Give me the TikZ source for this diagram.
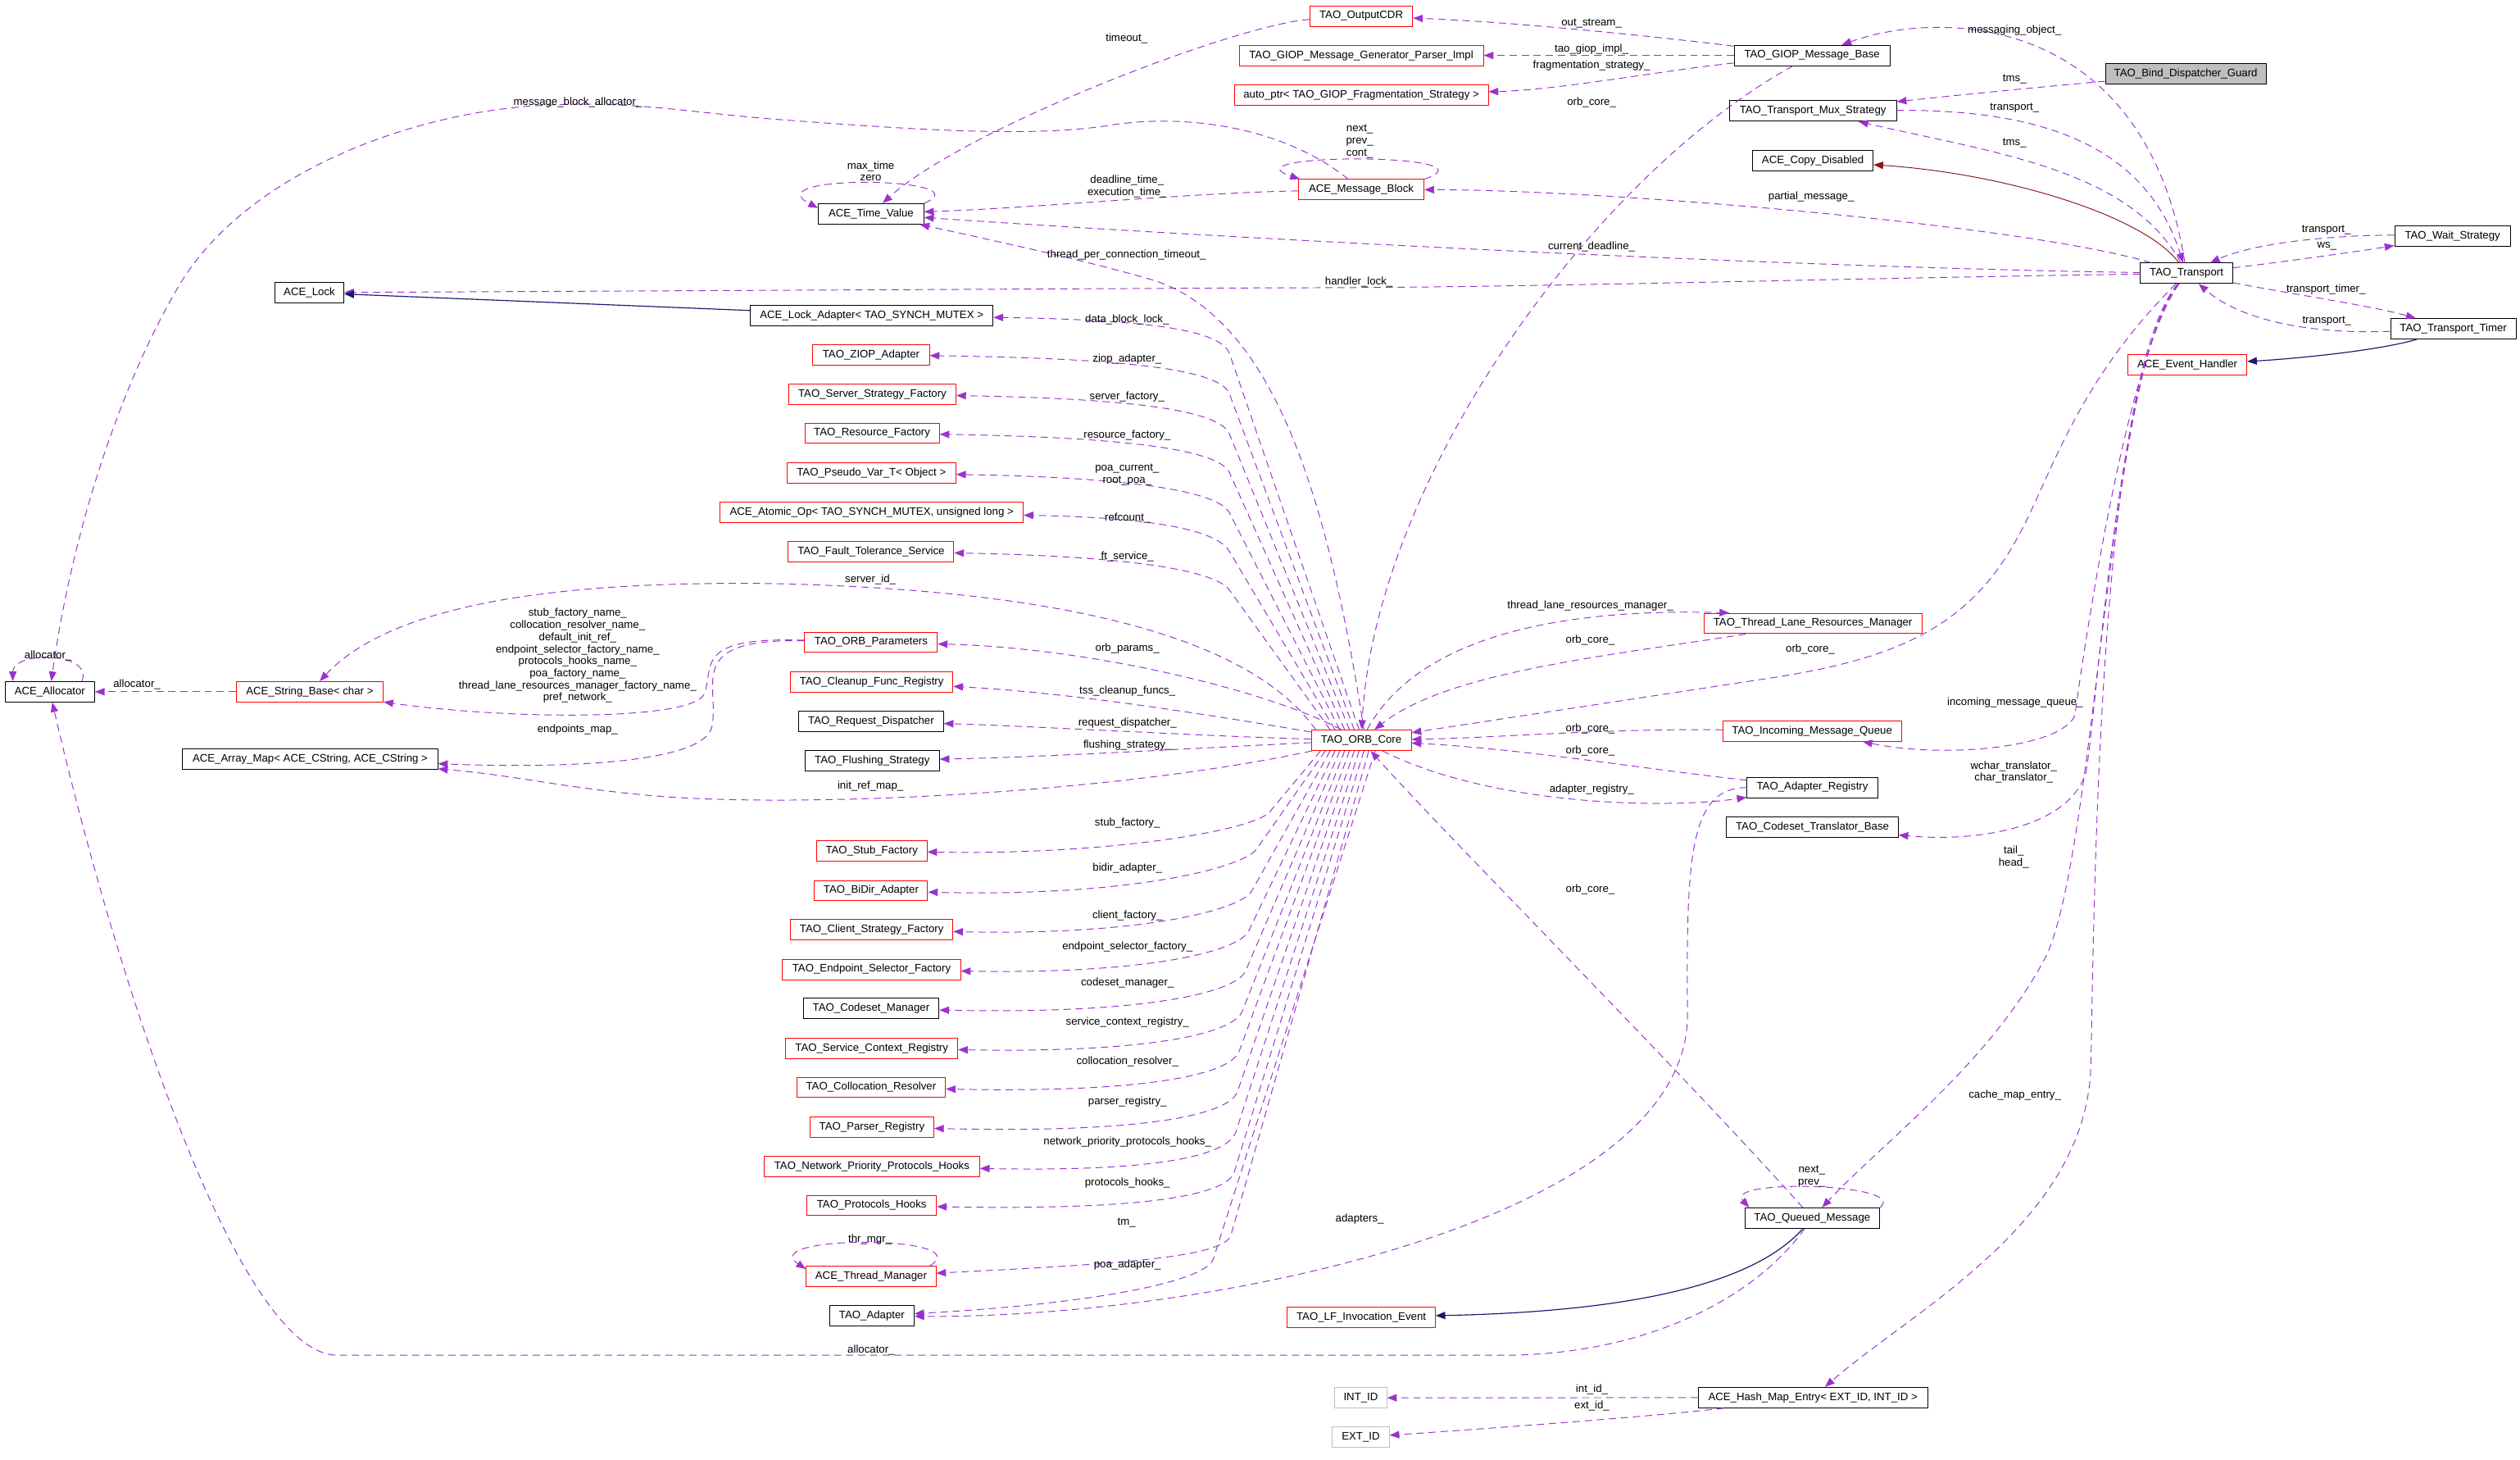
\documentclass[tikz,border=0pt]{standalone}
\usepackage{fontspec}
\setmainfont{Liberation Sans}
\usetikzlibrary{arrows.meta}
\definecolor{dorchid}{RGB}{154,50,205}
\definecolor{mblue}{RGB}{25,25,112}
\definecolor{fbrick}{RGB}{139,26,26}
\definecolor{gbox}{RGB}{191,191,191}
\newcommand{\dgfont}{\fontsize{6.75pt}{7.5pt}\selectfont}
\begin{document}
\begin{tikzpicture}[x=1pt,y=-1pt,
 cls/.style={draw=black,line width=0.5pt,minimum height=12.7pt,inner xsep=2pt,inner ysep=0pt,font=\dgfont},
 rcls/.style={cls,draw=red},
 gcls/.style={cls,draw=gbox},
 rel/.style={draw=dorchid,line width=0.5pt,dash pattern=on 4.5pt off 3pt,-{Triangle[length=6pt,width=4.6pt]}},
 inh/.style={draw=mblue,line width=0.6pt,-{Triangle[length=6pt,width=4.6pt]}},
 prv/.style={draw=fbrick,line width=0.5pt,-{Triangle[length=6pt,width=4.6pt]}},
 lbl/.style={font=\dgfont,inner sep=0pt,align=center}]
\useasboundingbox (0,0) rectangle (1568,908);

% ---------------- nodes ----------------
\node[rcls,minimum width=64pt] (OCDR) at (847,10) {TAO\_OutputCDR};
\node[rcls,minimum width=152pt] (GPI) at (847,34.5) {TAO\_GIOP\_Message\_Generator\_Parser\_Impl};
\node[rcls,minimum width=158pt] (AP) at (847,59) {auto\_ptr< TAO\_GIOP\_Fragmentation\_Strategy >};
\node[cls,minimum width=97pt] (GMB) at (1127.5,34.5) {TAO\_GIOP\_Message\_Base};
\node[cls,fill=gbox,minimum width=100pt] (BDG) at (1360,46) {TAO\_Bind\_Dispatcher\_Guard};
\node[cls,minimum width=104pt] (TMS) at (1128,69) {TAO\_Transport\_Mux\_Strategy};
\node[cls,minimum width=75pt] (ACD) at (1128,100) {ACE\_Copy\_Disabled};
\node[rcls,minimum width=78pt] (AMB) at (847,118) {ACE\_Message\_Block};
\node[cls,minimum width=65.6pt] (ATV) at (542,133) {ACE\_Time\_Value};
\node[cls,minimum width=57.4pt] (TR) at (1360.5,170) {TAO\_Transport};
\node[cls,minimum width=72pt] (TWS) at (1526,146.7) {TAO\_Wait\_Strategy};
\node[cls,minimum width=78pt] (TTT) at (1526.5,204.5) {TAO\_Transport\_Timer};
\node[rcls,minimum width=74pt] (AEH) at (1361,227) {ACE\_Event\_Handler};
\node[cls,minimum width=43pt] (AL) at (192.5,182) {ACE\_Lock};
\node[cls,minimum width=151pt] (ALA) at (542.4,196.2) {ACE\_Lock\_Adapter< TAO\_SYNCH\_MUTEX >};
\node[rcls,minimum width=72.5pt] (ZIOP) at (542,220.7) {TAO\_ZIOP\_Adapter};
\node[rcls,minimum width=104pt] (SSF) at (542.8,245.2) {TAO\_Server\_Strategy\_Factory};
\node[rcls,minimum width=83.7pt] (RF) at (542.6,269.5) {TAO\_Resource\_Factory};
\node[rcls,minimum width=105pt] (PVT) at (542.2,294.2) {TAO\_Pseudo\_Var\_T< Object >};
\node[rcls,minimum width=188.5pt] (AAO) at (542.4,318.7) {ACE\_Atomic\_Op< TAO\_SYNCH\_MUTEX, unsigned long >};
\node[rcls,minimum width=103pt] (FTS) at (542,343) {TAO\_Fault\_Tolerance\_Service};
\node[rcls,minimum width=82.6pt] (OP) at (542,399.5) {TAO\_ORB\_Parameters};
\node[rcls,minimum width=101pt] (CFR) at (542.4,424.3) {TAO\_Cleanup\_Func\_Registry};
\node[cls,minimum width=90pt] (RD) at (542,448.6) {TAO\_Request\_Dispatcher};
\node[cls,minimum width=83.5pt] (FS) at (542.7,473) {TAO\_Flushing\_Strategy};
\node[rcls,minimum width=68.7pt] (SF) at (542.4,529.3) {TAO\_Stub\_Factory};
\node[rcls,minimum width=70.4pt] (BDA) at (542,554) {TAO\_BiDir\_Adapter};
\node[rcls,minimum width=101pt] (CSF) at (542.4,578.3) {TAO\_Client\_Strategy\_Factory};
\node[rcls,minimum width=110.7pt] (ESF) at (542.3,603) {TAO\_Endpoint\_Selector\_Factory};
\node[cls,minimum width=84.5pt] (CM) at (542,627.3) {TAO\_Codeset\_Manager};
\node[rcls,minimum width=107pt] (SCR) at (542.4,652) {TAO\_Service\_Context\_Registry};
\node[rcls,minimum width=92.5pt] (CR) at (542,676.4) {TAO\_Collocation\_Resolver};
\node[rcls,minimum width=77pt] (PR) at (542.5,701) {TAO\_Parser\_Registry};
\node[rcls,minimum width=134pt] (NPPH) at (542.5,725.5) {TAO\_Network\_Priority\_Protocols\_Hooks};
\node[rcls,minimum width=80.7pt] (PH) at (542.4,749.8) {TAO\_Protocols\_Hooks};
\node[rcls,minimum width=80.7pt] (ATM) at (542,794) {ACE\_Thread\_Manager};
\node[cls,minimum width=52.5pt] (TA) at (542.5,818.6) {TAO\_Adapter};
\node[cls,minimum width=55.6pt] (AA) at (31,430.3) {ACE\_Allocator};
\node[rcls,minimum width=91.4pt] (ASB) at (192.7,430.3) {ACE\_String\_Base< char >};
\node[cls,minimum width=158.7pt] (AAM) at (193,472) {ACE\_Array\_Map< ACE\_CString, ACE\_CString >};
\node[rcls,minimum width=62.2pt] (OC) at (847,460.5) {TAO\_ORB\_Core};
\node[rcls,minimum width=135.6pt] (TLRM) at (1128,387.8) {TAO\_Thread\_Lane\_Resources\_Manager};
\node[rcls,minimum width=111pt] (IMQ) at (1127.5,454.7) {TAO\_Incoming\_Message\_Queue};
\node[cls,minimum width=81.3pt] (AR) at (1127.7,489.8) {TAO\_Adapter\_Registry};
\node[cls,minimum width=106.7pt] (CTB) at (1127.7,514.3) {TAO\_Codeset\_Translator\_Base};
\node[cls,minimum width=84pt] (QM) at (1127.6,757.7) {TAO\_Queued\_Message};
\node[rcls,minimum width=92pt] (LFI) at (847,819.3) {TAO\_LF\_Invocation\_Event};
\node[gcls,minimum width=32.3pt] (INT) at (846.7,869.5) {INT\_ID};
\node[gcls,minimum width=35.4pt] (EXT) at (846.7,894) {EXT\_ID};
\node[cls,minimum width=142.7pt] (HME) at (1128,869.3) {ACE\_Hash\_Map\_Entry< EXT\_ID, INT\_ID >};

% ---------------- top region edges ----------------
\draw[rel] (GMB) .. controls (1040,24) and (950,14) .. (OCDR);
\draw[rel] (GMB) -- (GPI);
\draw[rel] (GMB) .. controls (1040,43) and (970,56) .. (AP);
\draw[rel] (GMB) .. controls (990,110) and (855,300) .. (OC);
\draw[rel] (OCDR) .. controls (770,15) and (600,80) .. (ATV);
\draw[rel] (AMB.north east) .. controls (935,95) and (760,95) .. ([xshift=1pt]AMB.north west);
\draw[rel] (AMB) .. controls (740,120) and (650,129) .. (ATV);
\draw[rel] (AMB) .. controls (800,80) and (740,70) .. (690,78) .. controls (640,86) and (560,80) .. (480,74) .. controls (420,69) and (390,62) .. (330,66) .. controls (250,72) and (150,110) .. (110,180) .. controls (75,240) and (45,330) .. (AA);
\draw[rel] (ATV.north east) .. controls (614,110) and (468,108) .. ([yshift=-3pt]ATV.north west);

% ---------------- transport edges ----------------
\draw[rel] (TWS) .. controls (1460,146) and (1405,150) .. (TR);
\draw[rel] (TR) .. controls (1420,163) and (1470,156) .. (TWS);
\draw[rel] (TR) .. controls (1420,182) and (1475,190) .. (TTT);
\draw[rel] (TTT) .. controls (1440,208) and (1395,200) .. (TR);
\draw[inh] (TTT) .. controls (1480,218) and (1430,223) .. (AEH);
\draw[prv] (TR) .. controls (1335,135) and (1250,108) .. (ACD);
\draw[rel] (TR) .. controls (1325,105) and (1240,95) .. (TMS);
\draw[rel] (TMS) .. controls (1270,68) and (1335,90) .. (TR);
\draw[rel] (BDG) .. controls (1260,55) and (1210,60) .. (TMS);
\draw[rel] (TR) .. controls (1335,10) and (1210,5) .. (GMB);
\draw[rel] (TR) .. controls (1260,140) and (1000,118) .. (AMB);
\draw[rel] (TR) .. controls (1100,166) and (760,148) .. (ATV);
\draw[rel] (TR) .. controls (1100,174) and (950,179) .. (800,179) -- (AL);
\draw[rel] (TR) .. controls (1290,240) and (1275,300) .. (1255,335) .. controls (1225,390) and (1180,410) .. (1100,422) -- (OC);
\draw[rel] (TR) .. controls (1325,220) and (1300,380) .. (1291,445) .. controls (1283,465) and (1210,472) .. (IMQ);
\draw[rel] (TR) .. controls (1318,225) and (1305,440) .. (1298,480) .. controls (1288,515) and (1230,524) .. (CTB);
\draw[rel] (TR) .. controls (1312,230) and (1305,520) .. (1274,593) .. controls (1240,660) and (1170,712) .. (QM);
\draw[rel] (TR) .. controls (1306,235) and (1303,560) .. (1301,662) .. controls (1299,760) and (1190,815) .. (HME);

% ---------------- ORB core to upper column ----------------
\draw[rel] ([xshift=33pt]OC.north west) .. controls (825,300) and (790,200) .. (720,175) .. controls (680,163) and (620,150) .. (ATV);
\draw[rel] ([xshift=30pt]OC.north west) -- (765,220) .. controls (760,206) and (720,199) .. (ALA);
\draw[rel] ([xshift=27pt]OC.north west) -- (765,245) .. controls (759.7,231) and (710,223) .. (ZIOP);
\draw[rel] ([xshift=24pt]OC.north west) -- (765,270) .. controls (759.3,256) and (710,248) .. (SSF);
\draw[rel] ([xshift=21pt]OC.north west) -- (765,294) .. controls (758.8,280.3) and (705,272) .. (RF);
\draw[rel] ([xshift=18pt]OC.north west) -- (765,319) .. controls (758,305.6) and (705,297) .. (PVT);
\draw[rel] ([xshift=15pt]OC.north west) -- (765,343) .. controls (757.3,330) and (720,322) .. (AAO);
\draw[rel] ([xshift=12pt]OC.north west) -- (765,367) .. controls (756,355) and (705,346) .. (FTS);
\draw[rel] ([xshift=3pt]OC.north west) .. controls (770,385) and (620,366) .. (480,363) .. controls (330,361) and (240,380) .. (ASB);
\draw[rel] (OC) .. controls (790,430) and (680,403) .. (OP);
\draw[rel] (OC) .. controls (760,446) and (670,431) .. (CFR);
\draw[rel] (OC) .. controls (750,458) and (650,452) .. (RD);
\draw[rel] (OC) .. controls (750,465) and (650,471) .. (FS);
\draw[rel] (OC) .. controls (700,492) and (520,502) .. (420,496) .. controls (360,492) and (320,482) .. (AAM);

% ---------------- ORB core to lower column ----------------
\draw[rel] ([xshift=6pt]OC.south west) -- (790,505) .. controls (780.4,516.5) and (690,532) .. (SF);
\draw[rel] ([xshift=9pt]OC.south west) -- (782,528) .. controls (773.4,540.3) and (700,558) .. (BDA);
\draw[rel] ([xshift=12pt]OC.south west) -- (779,554) .. controls (771.7,567) and (705,582) .. (CSF);
\draw[rel] ([xshift=15pt]OC.south west) -- (777,579) .. controls (770.5,592.5) and (710,606) .. (ESF);
\draw[rel] ([xshift=18pt]OC.south west) -- (775,604) .. controls (769,617.8) and (710,631) .. (CM);
\draw[rel] ([xshift=21pt]OC.south west) -- (773,629) .. controls (767.5,643) and (715,655) .. (SCR);
\draw[rel] ([xshift=24pt]OC.south west) -- (771,654) .. controls (765.8,668) and (715,680) .. (CR);
\draw[rel] ([xshift=27pt]OC.south west) -- (770,679) .. controls (765,693) and (715,705) .. (PR);
\draw[rel] ([xshift=30pt]OC.south west) -- (769,704) .. controls (764.4,718) and (725,729) .. (NPPH);
\draw[rel] ([xshift=33pt]OC.south west) -- (768,729) .. controls (763.6,743) and (715,753) .. (PH);
\draw[rel] ([xshift=36pt]OC.south west) -- (766,768) .. controls (762,782) and (700,786) .. (ATM);
\draw[rel] ([xshift=40pt]OC.south west) -- (755,783) .. controls (750.4,797.3) and (680,811) .. (TA);
\draw[rel] ([xshift=-4pt]ATM.north east) .. controls (610,768) and (470,768) .. ([yshift=-2pt]ATM.north west);

% ---------------- left cluster ----------------
\draw[inh] (ALA) -- (AL);
\draw[rel] (OP) .. controls (430,396) and (445,415) .. (438,432) .. controls (430,448) and (320,448) .. (ASB);
\draw[rel] (OP) .. controls (425,397) and (448,425) .. (443,452) .. controls (438,475) and (350,478) .. (AAM);
\draw[rel] (ASB) -- (AA);
\draw[rel] ([xshift=-8pt]AA.north east) .. controls (58,405) and (8,405) .. ([xshift=5pt]AA.north west);
\draw[rel] (QM) .. controls (1090,810) and (1020,843) .. (935,843) -- (210,843) .. controls (150,843) and (75,620) .. (AA);

% ---------------- right cluster ----------------
\draw[rel] (OC) .. controls (880,400) and (960,378) .. ([xshift=16pt]TLRM.north west);
\draw[rel] (TLRM) .. controls (1000,408) and (900,418) .. (OC);
\draw[rel] (IMQ) .. controls (1000,453) and (930,459) .. (OC);
\draw[rel] (AR) .. controls (1020,478) and (950,466) .. (OC);
\draw[rel] (OC) .. controls (930,502) and (1040,503) .. (AR);
\draw[rel] (AR) .. controls (1052,490) and (1049,530) .. (1050,630) .. controls (1052,760) and (750,820) .. (TA);
\draw[rel] (QM) .. controls (1040,660) and (900,520) .. (OC);
\draw[rel] (QM.north east) .. controls (1188,736) and (1072,733) .. ([xshift=3pt]QM.north west);
\draw[inh] (QM) .. controls (1090,800) and (1010,816) .. (LFI);
\draw[rel] (HME) -- (INT);
\draw[rel] (HME) .. controls (1030,881) and (920,889) .. (EXT);

% ---------------- labels ----------------
\node[lbl] (l1) at (701,23.8) {timeout\_};
\node[lbl] (l2) at (990.3,14.4) {out\_stream\_};
\node[lbl] (l3) at (990.3,30.6) {tao\_giop\_impl\_};
\node[lbl] (l4) at (990.3,40.8) {fragmentation\_strategy\_};
\node[lbl] (l5) at (990.3,63.7) {orb\_core\_};
\node[lbl] (l6) at (1253.5,19) {messaging\_object\_};
\node[lbl] (l7) at (1253.5,49.3) {tms\_};
\node[lbl] (l8) at (1253.5,67.1) {transport\_};
\node[lbl] (l9) at (1253.5,88.9) {tms\_};
\node[lbl] (l10) at (846,88) {next\_\\prev\_\\cont\_};
\node[lbl] (l11) at (1127,122.4) {partial\_message\_};
\node[lbl] (l12) at (990.3,153.5) {current\_deadline\_};
\node[lbl] (l13) at (845.5,175.5) {handler\_lock\_};
\node[lbl] (l14) at (541.8,106.5) {max\_time\\zero};
\node[lbl] (l15) at (701.3,115.9) {deadline\_time\_\\execution\_time\_};
\node[lbl] (l16) at (359.5,63.7) {message\_block\_allocator\_};
\node[lbl] (l17) at (701,158.6) {thread\_per\_connection\_timeout\_};
\node[lbl] (l18) at (1447.5,143.2) {transport\_};
\node[lbl] (l19) at (1447.8,153.3) {ws\_};
\node[lbl] (l20) at (1447.3,179.8) {transport\_timer\_};
\node[lbl] (l21) at (1447.8,199.7) {transport\_};
\node[lbl] (l22) at (701.3,198.9) {data\_block\_lock\_};
\node[lbl] (l23) at (701.3,223.5) {ziop\_adapter\_};
\node[lbl] (l24) at (701.3,247) {server\_factory\_};
\node[lbl] (l25) at (701.3,270.6) {resource\_factory\_};
\node[lbl] (l26) at (701.3,295.3) {poa\_current\_\\root\_poa\_};
\node[lbl] (l27) at (701.5,322.5) {refcount\_};
\node[lbl] (l28) at (701.5,346) {ft\_service\_};
\node[lbl] (l29) at (541.6,360.6) {server\_id\_};
\node[lbl] (l30) at (701.5,403.4) {orb\_params\_};
\node[lbl] (l31) at (701.5,430) {tss\_cleanup\_funcs\_};
\node[lbl] (l32) at (701.5,450) {request\_dispatcher\_};
\node[lbl] (l33) at (701.5,463.3) {flushing\_strategy\_};
\node[lbl] (l34) at (541.6,488.8) {init\_ref\_map\_};
\node[lbl] (l35) at (701.5,512) {stub\_factory\_};
\node[lbl] (l36) at (701.5,539.8) {bidir\_adapter\_};
\node[lbl] (l37) at (701.5,569.4) {client\_factory\_};
\node[lbl] (l38) at (701.5,589) {endpoint\_selector\_factory\_};
\node[lbl] (l39) at (701.5,611.4) {codeset\_manager\_};
\node[lbl] (l40) at (701.5,636) {service\_context\_registry\_};
\node[lbl] (l41) at (701.5,660.4) {collocation\_resolver\_};
\node[lbl] (l42) at (701.5,685.5) {parser\_registry\_};
\node[lbl] (l43) at (701.5,710.4) {network\_priority\_protocols\_hooks\_};
\node[lbl] (l44) at (701.5,736) {protocols\_hooks\_};
\node[lbl] (l45) at (701,760.7) {tm\_};
\node[lbl] (l46) at (541.3,771) {thr\_mgr\_};
\node[lbl] (l47) at (701.5,787) {poa\_adapter\_};
\node[lbl] (l48) at (846,758.4) {adapters\_};
\node[lbl] (l49) at (542,839.7) {allocator\_};
\node[lbl] (l50) at (29.9,407.7) {allocator\_};
\node[lbl] (l51) at (85.2,425.8) {allocator\_};
\node[lbl] (l52) at (359.4,407.9) {stub\_factory\_name\_\\collocation\_resolver\_name\_\\default\_init\_ref\_\\endpoint\_selector\_factory\_name\_\\protocols\_hooks\_name\_\\poa\_factory\_name\_\\thread\_lane\_resources\_manager\_factory\_name\_\\pref\_network\_};
\node[lbl] (l53) at (359.4,454) {endpoints\_map\_};
\node[lbl] (l54) at (989.5,376.8) {thread\_lane\_resources\_manager\_};
\node[lbl] (l55) at (989.5,398.3) {orb\_core\_};
\node[lbl] (l56) at (1126.4,403.7) {orb\_core\_};
\node[lbl] (l57) at (1253.8,436.9) {incoming\_message\_queue\_};
\node[lbl] (l58) at (989.5,453.2) {orb\_core\_};
\node[lbl] (l59) at (989.5,467) {orb\_core\_};
\node[lbl] (l60) at (990.4,490.9) {adapter\_registry\_};
\node[lbl] (l61) at (1253,480.4) {wchar\_translator\_\\char\_translator\_};
\node[lbl] (l62) at (1253,533.2) {tail\_\\head\_};
\node[lbl] (l63) at (989.5,553.3) {orb\_core\_};
\node[lbl] (l64) at (1253.7,681.4) {cache\_map\_entry\_};
\node[lbl] (l65) at (1127.3,731.9) {next\_\\prev\_};
\node[lbl] (l66) at (990.5,864.5) {int\_id\_};
\node[lbl] (l67) at (990.5,874.5) {ext\_id\_};
\end{tikzpicture}
\end{document}
